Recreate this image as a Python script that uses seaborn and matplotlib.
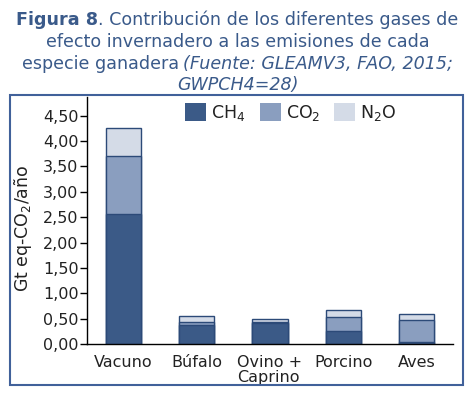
import matplotlib
matplotlib.use("Agg")
import matplotlib.pyplot as plt
import seaborn as sns
import pandas as pd
from matplotlib.patches import Patch, Rectangle
from matplotlib.ticker import FuncFormatter

# ---- data ----
especies = ["Vacuno", "Búfalo", "Ovino +\nCaprino", "Porcino", "Aves"]
ch4 = [2.56, 0.37, 0.41, 0.26, 0.04]
co2 = [1.14, 0.06, 0.02, 0.27, 0.43]
n2o = [0.55, 0.12, 0.06, 0.14, 0.12]
gases = ["CH$_4$", "CO$_2$", "N$_2$O"]
yticks = [0.0, 0.5, 1.0, 1.5, 2.0, 2.5, 3.0, 3.5, 4.0, 4.5]
ylabel = "Gt eq-CO$_2$/año"

# ---- style ----
c_ch4 = "#3b5a87"
c_co2 = "#8a9ebf"
c_n2o = "#d4dbe7"
edge = "#2c4a78"
blue_txt = "#3a5a8a"
frame_col = "#41619a"
txt = "#222222"

sns.set_theme(style="white")
plt.rcParams['font.family'] = ['DejaVu Sans']
plt.rcParams['mathtext.default'] = 'regular'

W, H = 475, 395
fig = plt.figure(figsize=(W / 100, H / 100), dpi=100)
fig.patch.set_facecolor("white")
ax = fig.add_axes([87 / W, (H - 344) / H, 366 / W, 247 / H])

df = pd.DataFrame({"especie": especies, "ch4": ch4, "co2": co2, "n2o": n2o})
df["c2"] = df["ch4"] + df["co2"]
df["c3"] = df["c2"] + df["n2o"]

for col, color in [("c3", c_n2o), ("c2", c_co2), ("ch4", c_ch4)]:
    sns.barplot(data=df, x="especie", y=col, color=color, saturation=1,
                width=0.48, edgecolor=edge, linewidth=1.0, errorbar=None, ax=ax)

ax.set_xlim(-0.5, 4.5)
ax.set_ylim(0, 4.87)
ax.set_yticks(yticks)
ax.yaxis.set_major_formatter(FuncFormatter(lambda v, p: f"{v:.2f}".replace(".", ",")))
ax.set_xlabel("")
ax.set_ylabel(ylabel, fontsize=12.5, color=txt)
ax.yaxis.set_label_coords(-0.145, 0.468)
for s in ["top", "right"]:
    ax.spines[s].set_visible(False)
for s in ["left", "bottom"]:
    ax.spines[s].set_color("black")
    ax.spines[s].set_linewidth(1.0)
ax.tick_params(axis="y", left=True, length=5, width=1, color="black", pad=1,
               labelsize=11.5, labelcolor=txt)
ax.tick_params(axis="x", bottom=False, pad=2, labelsize=11.5, labelcolor=txt)
for lbl in ax.get_xticklabels():
    lbl.set_multialignment("left")
    lbl.set_linespacing(1.0)
ax.set_facecolor("white")

handles = [Patch(facecolor=c, edgecolor="none") for c in (c_ch4, c_co2, c_n2o)]
ax.legend(handles, gases, loc="center", bbox_to_anchor=(0.557, 0.937), ncol=3,
          frameon=False, fontsize=12.5, handlelength=1.2, handleheight=1.2,
          handletextpad=0.3, columnspacing=0.8, borderpad=0, labelcolor=txt)

# frame around chart area
fig.patches.append(Rectangle((10 / W, (H - 385) / H), 453 / W, 290 / H,
                             transform=fig.transFigure, fill=False,
                             ec=frame_col, lw=1.5))

# ---- title with mixed styles ----
renderer = fig.canvas.get_renderer()
title_lines = [
    [("Figura 8", {"fontweight": "bold"}), (". Contribución de los diferentes gases de", {})],
    [("efecto invernadero a las emisiones de cada", {})],
    [("especie ganadera", {}), ("(Fuente: GLEAMV3, FAO, 2015;", {"fontstyle": "italic"})],
    [("GWPCH4=28)", {"fontstyle": "italic"})],
]
baselines = [25, 47, 69, 90]

# fit size to first line width
probe_size = 12.0
w = 0
for s, kw in title_lines[0]:
    t = fig.text(0, 0, s, fontsize=probe_size, **kw)
    w += t.get_window_extent(renderer).width
    t.remove()
fs = probe_size * 438 / w

for parts, yb in zip(title_lines, baselines):
    texts, widths = [], []
    for s, kw in parts:
        t = fig.text(0, 1 - yb / H, s, fontsize=fs, color=blue_txt,
                     ha="left", va="baseline", **kw)
        texts.append(t)
        widths.append(t.get_window_extent(renderer).width)
    gap = fs * 0.35 if len(parts) > 1 and parts[0][0].endswith("ganadera") else 0
    total = sum(widths) + gap * (len(parts) - 1)
    x = W / 2 - total / 2
    for t, wd in zip(texts, widths):
        t.set_x(x / W)
        x += wd + gap

fig.savefig("out.png", dpi=100, facecolor="white")
